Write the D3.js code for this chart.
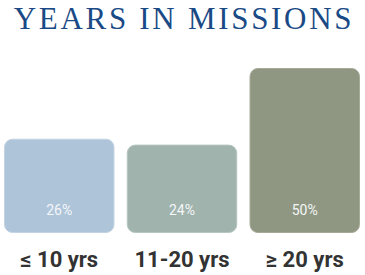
<!DOCTYPE html>
<html>
<head>
<meta charset="utf-8">
<script src="https://cdn.jsdelivr.net/npm/d3@7"></script>
<style>
body{margin:0;background:#fff}
</style>
</head>
<body>
<svg id="chart" width="365" height="275"></svg>
<script>
const categories=["≤ 10 yrs","11-20 yrs","≥ 20 yrs"]
const values=[26,24,50]
const colors=["#aec4d9","#a0b3ac","#8f9681"]
const strokes=["#c3d3e3","#b6c6c0","#a4aa97"]

const svg=d3.select("#chart")

svg.append("text")
  .attr("x",184).attr("y",29)
  .attr("text-anchor","middle")
  .style("font-family","'Liberation Serif','Times New Roman',serif")
  .style("font-size","31px")
  .style("letter-spacing","2.7px")
  .style("fill","#1a4a86")
  .text("YEARS IN MISSIONS")

const x=d3.scaleBand().domain(categories).range([4,360]).paddingInner(0.1).paddingOuter(0)
const y=d3.scaleLinear().domain([-6,50]).range([233,68])

const g=svg.append("g")
g.selectAll("rect")
  .data(values)
  .join("rect")
  .attr("x",(d,i)=>x(categories[i])+0.5)
  .attr("y",d=>y(d)+0.5)
  .attr("width",x.bandwidth()-1)
  .attr("height",d=>y(-6)-y(d)-1)
  .attr("rx",8)
  .attr("fill",(d,i)=>colors[i])
  .attr("stroke",(d,i)=>strokes[i])

g.selectAll("text.pct")
  .data(values)
  .join("text")
  .attr("class","pct")
  .attr("x",(d,i)=>x(categories[i])+x.bandwidth()/2)
  .attr("y",215)
  .attr("text-anchor","middle")
  .style("font-family","Roboto,sans-serif")
  .style("font-size","14px")
  .style("fill","#f4f6f8")
  .text(d=>d+"%")

const xAxis=d3.axisBottom(x).tickSize(0).tickPadding(0)
const ax=svg.append("g").attr("transform","translate(0,251)").call(xAxis)
ax.select(".domain").remove()
ax.selectAll("text")
  .style("font-family","Roboto,sans-serif")
  .style("font-weight","bold")
  .style("font-size","22px")
  .style("fill","#333")
</script>
</body>
</html>
